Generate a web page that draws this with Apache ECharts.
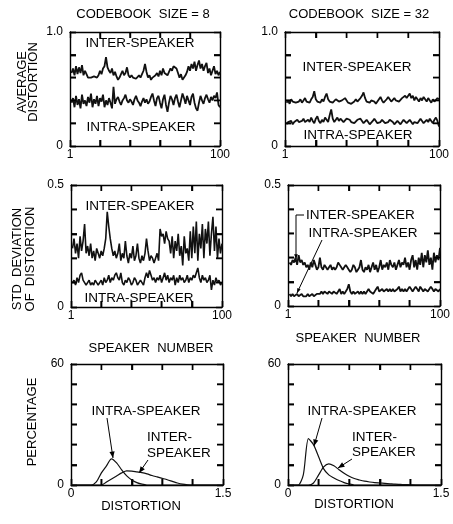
<!DOCTYPE html>
<html>
<head>
<meta charset="utf-8">
<script src="https://cdn.jsdelivr.net/npm/echarts@6/dist/echarts.min.js"></script>
<style>
html, body { margin: 0; padding: 0; background: #fff; }
#main { width: 453px; height: 524px; }
</style>
</head>
<body>
<div id="main"></div>
<script>
// speaker numbers 1..100
var speakers = [];
for (var i = 1; i <= 100; i++) speakers.push(i);

// average distortion, codebook size 8
var avgInter8 = [
  0.64,0.68,0.62,0.70,0.63,0.69,0.64,0.71,0.62,0.66,
  0.63,0.60,0.61,0.60,0.59,0.61,0.60,0.60,0.62,0.66,
  0.63,0.68,0.70,0.78,0.69,0.66,0.64,0.68,0.62,0.65,
  0.61,0.58,0.60,0.63,0.66,0.62,0.64,0.69,0.62,0.60,
  0.62,0.60,0.61,0.59,0.60,0.62,0.60,0.63,0.66,0.72,
  0.65,0.60,0.62,0.58,0.60,0.59,0.62,0.64,0.61,0.66,
  0.62,0.68,0.64,0.65,0.62,0.63,0.68,0.66,0.70,0.69,
  0.68,0.64,0.60,0.63,0.58,0.60,0.62,0.65,0.70,0.66,
  0.72,0.68,0.74,0.66,0.71,0.75,0.68,0.72,0.66,0.70,
  0.73,0.64,0.68,0.62,0.66,0.70,0.63,0.66,0.62,0.65
];
var avgIntra8 = [
  0.38,0.42,0.34,0.44,0.36,0.41,0.33,0.45,0.37,0.40,
  0.35,0.43,0.38,0.46,0.34,0.41,0.37,0.44,0.35,0.42,
  0.39,0.45,0.34,0.40,0.36,0.42,0.38,0.33,0.52,0.37,
  0.41,0.43,0.39,0.36,0.40,0.42,0.45,0.40,0.38,0.41,
  0.39,0.36,0.41,0.44,0.40,0.38,0.35,0.39,0.42,0.38,
  0.41,0.37,0.39,0.43,0.46,0.40,0.35,0.42,0.44,0.38,
  0.33,0.41,0.45,0.36,0.30,0.38,0.44,0.41,0.36,0.42,
  0.45,0.39,0.34,0.40,0.46,0.42,0.37,0.44,0.40,0.36,
  0.43,0.46,0.38,0.33,0.31,0.38,0.44,0.40,0.37,0.42,
  0.45,0.41,0.38,0.43,0.40,0.44,0.42,0.47,0.36,0.34
];

// average distortion, codebook size 32
var avgInter32 = [
  0.38,0.40,0.37,0.41,0.39,0.40,0.38,0.37,0.39,0.41,
  0.38,0.40,0.42,0.39,0.40,0.38,0.41,0.43,0.48,0.41,
  0.39,0.40,0.38,0.41,0.39,0.43,0.46,0.41,0.39,0.40,
  0.38,0.39,0.41,0.40,0.39,0.38,0.40,0.39,0.42,0.40,
  0.38,0.39,0.37,0.38,0.39,0.41,0.39,0.40,0.42,0.44,
  0.47,0.42,0.39,0.40,0.38,0.40,0.41,0.39,0.37,0.39,
  0.41,0.43,0.40,0.38,0.39,0.41,0.43,0.41,0.39,0.40,
  0.42,0.40,0.41,0.39,0.40,0.42,0.41,0.44,0.42,0.43,
  0.46,0.42,0.44,0.40,0.43,0.41,0.39,0.42,0.40,0.43,
  0.41,0.39,0.42,0.40,0.38,0.41,0.39,0.40,0.42,0.41
];
var avgIntra32 = [
  0.19,0.21,0.20,0.22,0.19,0.21,0.20,0.23,0.21,0.20,
  0.22,0.24,0.21,0.20,0.23,0.21,0.25,0.22,0.20,0.24,
  0.26,0.22,0.20,0.23,0.21,0.25,0.23,0.21,0.27,0.32,
  0.24,0.21,0.23,0.25,0.22,0.24,0.23,0.21,0.22,0.24,
  0.25,0.23,0.21,0.22,0.20,0.21,0.23,0.22,0.24,0.22,
  0.20,0.21,0.23,0.21,0.19,0.20,0.22,0.24,0.22,0.20,
  0.19,0.21,0.23,0.22,0.20,0.19,0.21,0.23,0.24,0.21,
  0.19,0.20,0.22,0.21,0.19,0.21,0.23,0.22,0.20,0.21,
  0.23,0.21,0.19,0.21,0.22,0.20,0.22,0.24,0.22,0.20,
  0.21,0.23,0.21,0.24,0.22,0.20,0.23,0.25,0.22,0.17
];

// std deviation of distortion, codebook size 8
var stdInter8 = [
  0.24,0.28,0.22,0.26,0.20,0.29,0.23,0.27,0.34,0.22,
  0.25,0.21,0.26,0.20,0.23,0.19,0.24,0.22,0.20,0.23,
  0.21,0.24,0.28,0.39,0.33,0.28,0.24,0.21,0.23,0.20,
  0.22,0.26,0.19,0.22,0.20,0.27,0.21,0.18,0.22,0.20,
  0.25,0.19,0.21,0.26,0.20,0.18,0.21,0.19,0.22,0.28,
  0.23,0.19,0.21,0.20,0.18,0.20,0.22,0.19,0.32,0.29,
  0.30,0.26,0.31,0.28,0.27,0.22,0.29,0.20,0.27,0.23,
  0.30,0.21,0.25,0.17,0.29,0.22,0.24,0.19,0.31,0.20,
  0.33,0.22,0.35,0.19,0.30,0.24,0.34,0.20,0.32,0.26,
  0.35,0.21,0.30,0.37,0.23,0.33,0.20,0.28,0.22,0.26
];
var stdIntra8 = [
  0.10,0.11,0.09,0.12,0.10,0.13,0.14,0.11,0.10,0.09,
  0.10,0.11,0.09,0.10,0.09,0.11,0.10,0.09,0.10,0.11,
  0.09,0.12,0.10,0.11,0.13,0.10,0.12,0.11,0.13,0.14,
  0.12,0.11,0.14,0.10,0.09,0.11,0.10,0.12,0.11,0.09,
  0.10,0.12,0.11,0.09,0.10,0.11,0.10,0.09,0.12,0.14,
  0.12,0.15,0.13,0.11,0.12,0.10,0.12,0.11,0.13,0.10,
  0.12,0.14,0.11,0.13,0.10,0.12,0.11,0.13,0.09,0.12,
  0.10,0.13,0.11,0.12,0.10,0.11,0.13,0.10,0.12,0.11,
  0.13,0.12,0.14,0.16,0.12,0.10,0.13,0.11,0.12,0.10,
  0.11,0.13,0.07,0.11,0.09,0.12,0.10,0.11,0.09,0.10
];

// std deviation of distortion, codebook size 32
var stdInter32 = [
  0.18,0.17,0.19,0.18,0.20,0.17,0.21,0.18,0.19,0.17,
  0.18,0.16,0.17,0.15,0.18,0.16,0.19,0.17,0.15,0.16,
  0.20,0.16,0.15,0.17,0.16,0.15,0.16,0.17,0.15,0.16,
  0.15,0.16,0.18,0.17,0.16,0.15,0.16,0.17,0.16,0.15,
  0.14,0.15,0.17,0.16,0.14,0.15,0.16,0.19,0.15,0.14,
  0.16,0.15,0.17,0.14,0.16,0.18,0.15,0.17,0.14,0.16,
  0.19,0.15,0.17,0.16,0.18,0.15,0.19,0.17,0.16,0.18,
  0.15,0.17,0.19,0.16,0.18,0.17,0.20,0.16,0.18,0.15,
  0.19,0.21,0.16,0.19,0.15,0.20,0.17,0.22,0.16,0.21,
  0.18,0.23,0.17,0.20,0.15,0.22,0.18,0.21,0.19,0.24
];
var stdIntra32 = [
  0.05,0.04,0.05,0.04,0.04,0.05,0.04,0.04,0.05,0.04,
  0.04,0.04,0.05,0.04,0.04,0.05,0.04,0.04,0.05,0.05,
  0.05,0.06,0.05,0.06,0.06,0.05,0.06,0.06,0.05,0.06,
  0.06,0.05,0.06,0.07,0.05,0.06,0.05,0.06,0.07,0.09,
  0.06,0.05,0.06,0.05,0.05,0.06,0.05,0.06,0.05,0.06,
  0.05,0.06,0.07,0.06,0.06,0.05,0.06,0.07,0.08,0.06,
  0.06,0.07,0.06,0.06,0.07,0.06,0.07,0.06,0.07,0.06,
  0.06,0.07,0.08,0.06,0.07,0.06,0.07,0.06,0.07,0.08,
  0.07,0.06,0.07,0.08,0.07,0.06,0.08,0.07,0.06,0.07,
  0.07,0.06,0.07,0.08,0.07,0.06,0.07,0.07,0.06,0.07
];

// distortion histograms (percentage per distortion bin)
var distBins = [0,0.05,0.1,0.15,0.2,0.25,0.3,0.35,0.4,0.45,0.5,0.55,0.6,0.65,0.7,0.75,
                0.8,0.85,0.9,0.95,1.0,1.05,1.1,1.15,1.2,1.25,1.3,1.35,1.4,1.45,1.5];
var pctIntra8  = [0,0,0,0,0,1.5,6,9.5,13,11,7.5,4.5,2.5,1.2,0.4,0,0,0,0,0,0,0,0,0,0,0,0,0,0,0,0];
var pctInter8  = [0,0,0,0,0,0,0,1.5,3,4.5,6,7,6.9,6.5,6.1,5.5,4.7,4,3.3,2.6,1.8,1,0.4,0.1,0,0,0,0,0,0,0];
var pctIntra32 = [0,0,0,5,23,20,14,8,5,3.5,2.2,1.2,0.5,0,0,0,0,0,0,0,0,0,0,0,0,0,0,0,0,0,0];
var pctInter32 = [0,0,0,0,0,1,5,9,10.5,9.5,7.6,5.8,4.3,3.2,2.5,1.9,1.5,1.2,1,0.8,0.6,0.4,0.3,0.2,0.1,0,0,0,0,0,0];

var FONT = "'Liberation Sans', Arial, sans-serif";
var TL = 6;   // tick length

function pairs(xs, ys) {
  return xs.map(function (x, k) { return [x, ys[k]]; });
}

// panel layout and axis ranges [min, max, tick step, min label, max label]
var panels = [
  { left: 70,  top: 32,  width: 150, height: 114, x: [0, 100, 20, '1', '100'], y: [0, 1, 0.2, '0', '1.0'],
    lines: [avgInter8, avgIntra8], xs: speakers, w: 1.8, smooth: false },
  { left: 285, top: 32,  width: 154, height: 114, x: [0, 100, 20, '1', '100'], y: [0, 1, 0.2, '0', '1.0'],
    lines: [avgInter32, avgIntra32], xs: speakers, w: 1.8, smooth: false },
  { left: 71,  top: 185, width: 151, height: 122, x: [0, 100, 20, '1', '100'], y: [0, 0.5, 0.1, '0', '0.5'],
    lines: [stdInter8, stdIntra8], xs: speakers, w: 1.6, smooth: false },
  { left: 288, top: 185, width: 152, height: 121, x: [0, 100, 20, '1', '100'], y: [0, 0.5, 0.1, '0', '0.5'],
    lines: [stdInter32, stdIntra32], xs: speakers, w: 1.8, smooth: false },
  { left: 71,  top: 364, width: 152, height: 121, x: [0, 1.5, 0.3, '0', '1.5'], y: [0, 60, 10, '0', '60'],
    lines: [pctIntra8, pctInter8], xs: distBins, w: 1.2, smooth: 0.3 },
  { left: 288, top: 364, width: 153, height: 121, x: [0, 1.5, 0.3, '0', '1.5'], y: [0, 60, 10, '0', '60'],
    lines: [pctIntra32, pctInter32], xs: distBins, w: 1.2, smooth: 0.25 }
];

function endLabels(r) {
  return function (v) {
    if (Math.abs(v - r[0]) < 1e-6) return r[3];
    if (Math.abs(v - r[1]) < 1e-6) return r[4];
    return '';
  };
}

// span = length of the split lines for this axis; a dash pattern keeps only
// a short piece at both ends, which gives the inward ticks on opposite sides
function axis(p, r, pos, showLabel, span) {
  return {
    gridIndex: p, type: 'value', min: r[0], max: r[1], interval: r[2], position: pos,
    axisLine: { show: true, onZero: false, lineStyle: { color: '#000', width: 1.4 } },
    axisTick: { show: showLabel, inside: true, length: TL, lineStyle: { color: '#000', width: 1.4 } },
    axisLabel: { show: showLabel, formatter: endLabels(r), color: '#000', fontFamily: FONT, fontSize: 12,
                 margin: pos === 'left' ? 7 : 3, showMinLabel: true, showMaxLabel: true },
    splitLine: { show: showLabel, lineStyle: { color: '#000', width: 1.4,
                 type: [TL, Math.max(1, span - 2 * TL), TL, 3000] } }
  };
}

var grids = [], xAxes = [], yAxes = [], series = [];
panels.forEach(function (pn, p) {
  grids.push({ left: pn.left, top: pn.top, width: pn.width, height: pn.height, containLabel: false });
  xAxes.push(axis(p, pn.x, 'bottom', true, pn.height));
  xAxes.push(axis(p, pn.x, 'top', false, pn.height));
  yAxes.push(axis(p, pn.y, 'left', true, pn.width));
  yAxes.push(axis(p, pn.y, 'right', false, pn.width));
  pn.lines.forEach(function (arr) {
    series.push({
      type: 'line', xAxisIndex: 2 * p, yAxisIndex: 2 * p,
      data: pairs(pn.xs, arr), symbol: 'none', smooth: pn.smooth,
      lineStyle: { color: '#111', width: pn.w }, silent: true
    });
  });

  // tick marks placed through the panel's own axes
  var tickData = [];
  var nx = Math.round((pn.x[1] - pn.x[0]) / pn.x[2]);
  var ny = Math.round((pn.y[1] - pn.y[0]) / pn.y[2]);
  for (var k = 1; k < nx; k++) tickData.push([pn.x[0] + k * pn.x[2], 0]);
  for (var j = 1; j < ny; j++) tickData.push([pn.y[0] + j * pn.y[2], 1]);
  series.push({
    type: 'custom', xAxisIndex: 2 * p, yAxisIndex: 2 * p, silent: true, clip: false,
    zlevel: 1, z: 50, data: tickData,
    renderItem: function (params, api) {
      var v = api.value(0), kind = api.value(1), a, b, st = { stroke: '#000', lineWidth: 1.4 };
      if (kind === 0) {
        a = api.coord([v, pn.y[0]]); b = api.coord([v, pn.y[1]]);
        return { type: 'group', children: [
          { type: 'line', shape: { x1: a[0], y1: a[1], x2: a[0], y2: a[1] - TL }, style: st },
          { type: 'line', shape: { x1: b[0], y1: b[1], x2: b[0], y2: b[1] + TL }, style: st }
        ] };
      }
      a = api.coord([pn.x[0], v]); b = api.coord([pn.x[1], v]);
      return { type: 'group', children: [
        { type: 'line', shape: { x1: a[0], y1: a[1], x2: a[0] + TL, y2: a[1] }, style: st },
        { type: 'line', shape: { x1: b[0], y1: b[1], x2: b[0] - TL, y2: b[1] }, style: st }
      ] };
    }
  });
});

function txt(s, x, y, size, align, rot) {
  return {
    type: 'text', x: x, y: y, rotation: rot || 0, silent: true,
    style: { text: s, font: (size || 13) + 'px ' + FONT, fill: '#000',
             textAlign: align || 'center', align: align || 'center',
             textVerticalAlign: 'middle', verticalAlign: 'middle' }
  };
}

function seg(x1, y1, x2, y2, w) {
  return { type: 'line', silent: true, shape: { x1: x1, y1: y1, x2: x2, y2: y2 },
           style: { stroke: '#000', lineWidth: w || 1 } };
}

function arrow(x1, y1, x2, y2, head) {
  var a = Math.atan2(y2 - y1, x2 - x1), h = head || 6, s = 0.38;
  return [
    seg(x1, y1, x2, y2),
    { type: 'polygon', silent: true,
      shape: { points: [[x2, y2],
        [x2 - h * Math.cos(a - s), y2 - h * Math.sin(a - s)],
        [x2 - h * Math.cos(a + s), y2 - h * Math.sin(a + s)]] },
      style: { fill: '#000' } }
  ];
}

var V = Math.PI / 2;
var graphics = [
  txt('CODEBOOK  SIZE = 8', 143, 14),
  txt('CODEBOOK  SIZE = 32', 359, 14),
  txt('AVERAGE', 22, 82, 13, 'center', V),
  txt('DISTORTION', 33, 82, 13, 'center', V),
  txt('STD  DEVIATION', 17, 259, 13, 'center', V),
  txt('OF  DISTORTION', 30, 259, 13, 'center', V),
  txt('PERCENTAGE', 32, 422, 13, 'center', V),
  txt('SPEAKER  NUMBER', 151, 348),
  txt('SPEAKER  NUMBER', 358, 338),
  txt('DISTORTION', 141, 506),
  txt('DISTORTION', 354, 504),
  txt('INTER-SPEAKER', 140, 43, 13.5),
  txt('INTRA-SPEAKER', 141, 127, 13.5),
  txt('INTER-SPEAKER', 357, 67, 13.5),
  txt('INTRA-SPEAKER', 358, 135, 13.5),
  txt('INTER-SPEAKER', 140, 206, 13.5),
  txt('INTRA-SPEAKER', 139, 298, 13.5),
  txt('INTER-SPEAKER', 306, 215, 13.5, 'left'),
  txt('INTRA-SPEAKER', 363, 233, 13.5),
  txt('INTRA-SPEAKER', 146, 411, 13.5),
  txt('INTER-', 147, 437, 13.5, 'left'),
  txt('SPEAKER', 147, 453, 13.5, 'left'),
  txt('INTRA-SPEAKER', 362, 411, 13.5),
  txt('INTER-', 352, 437, 13.5, 'left'),
  txt('SPEAKER', 352, 452, 13.5, 'left'),
  seg(296, 215, 304, 215)
]
  .concat(arrow(296, 215, 296, 259, 5))
  .concat(arrow(322, 240, 297, 293, 5))
  .concat(arrow(107, 418, 113, 458, 7))
  .concat(arrow(148, 460, 139, 473, 7))
  .concat(arrow(322, 418, 314, 446, 7))
  .concat(arrow(352, 459, 338, 468, 7));

var myChart = echarts.init(document.getElementById('main'));
var option = {
  animation: false,
  grid: grids,
  xAxis: xAxes,
  yAxis: yAxes,
  series: series,
  graphic: graphics
};
myChart.setOption(option);
window.onresize = function () { myChart.resize(); };
</script>
</body>
</html>
